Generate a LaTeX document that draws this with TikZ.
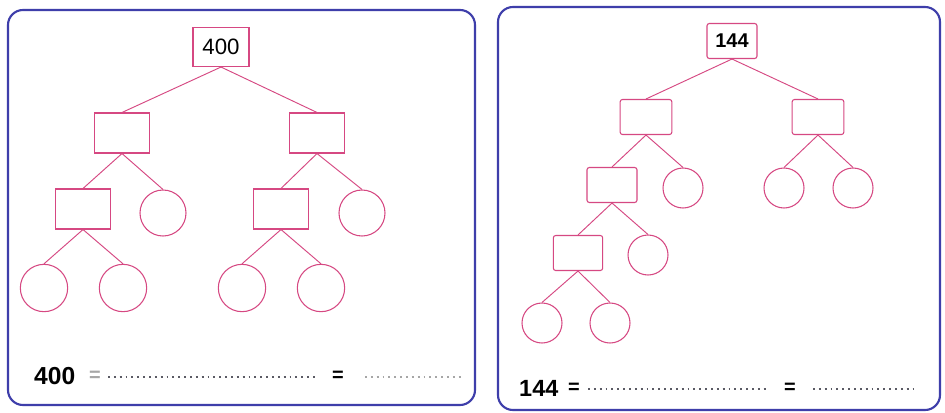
\documentclass[tikz,border=0pt]{standalone}
\usepackage{fontspec}
\setmainfont{Liberation Sans}
\definecolor{frameblue}{RGB}{62,62,170}
\definecolor{treepink}{RGB}{214,72,130}
\definecolor{dotgray}{RGB}{90,90,100}
\begin{document}
\begin{tikzpicture}[x=0.03cm,y=-0.03cm,
  panel/.style={draw=frameblue,line width=1.8pt,rounded corners=0.45cm,fill=white},
  boxL/.style={draw=treepink,line width=0.9pt,minimum width=1.65cm,minimum height=1.2cm,inner sep=0pt},
  boxR/.style={draw=treepink,line width=0.9pt,rounded corners=2pt,minimum width=1.55cm,minimum height=1.05cm,inner sep=0pt},
  ringL/.style={draw=treepink,line width=0.9pt,circle,minimum size=1.42cm,inner sep=0pt},
  ringR/.style={draw=treepink,line width=0.9pt,circle,minimum size=1.2cm,inner sep=0pt},
  edge/.style={draw=treepink,line width=0.8pt},
  dots/.style={draw=dotgray,line width=1.4pt,dash pattern=on 1.6pt off 3.4pt},
  lbl/.style={font=\fontsize{20}{22}\selectfont\bfseries,inner sep=0pt},
  eq/.style={font=\fontsize{17}{19}\selectfont\bfseries,inner sep=0pt}]
\useasboundingbox (0,0) rectangle (945,412);
\fill[white] (0,0) rectangle (945,412);
% panels
\draw[panel] (8,10) rectangle (475,405);
\draw[panel] (498,7) rectangle (940,410);

% ---------- left tree ----------
\node[boxL,minimum width=1.68cm,minimum height=1.17cm,font=\fontsize{19}{21}\selectfont] (a0) at (221,47) {400};
\node[boxL] (a1) at (122,133) {};
\node[boxL] (a2) at (317,133) {};
\node[boxL] (a11) at (83,209) {};
\node[ringL,minimum size=1.38cm] (a12) at (163,213) {};
\node[boxL] (a21) at (281,209) {};
\node[ringL,minimum size=1.38cm] (a22) at (362,213) {};
\node[ringL] (a111) at (44,288) {};
\node[ringL] (a112) at (123,288) {};
\node[ringL] (a211) at (242,288) {};
\node[ringL] (a212) at (321,288) {};
\draw[edge] (a0.south) -- (a1.north);
\draw[edge] (a0.south) -- (a2.north);
\draw[edge] (a1.south) -- (a11.north);
\draw[edge] (a1.south) -- (a12.north);
\draw[edge] (a2.south) -- (a21.north);
\draw[edge] (a2.south) -- (a22.north);
\draw[edge] (a11.south) -- (a111.north);
\draw[edge] (a11.south) -- (a112.north);
\draw[edge] (a21.south) -- (a211.north);
\draw[edge] (a21.south) -- (a212.north);

% left equation
\node[lbl,anchor=west,font=\fontsize{21}{23}\selectfont\bfseries] (ln) at (34,376) {400};
\node[eq,text=gray!70,anchor=center] (le1) at (95,376) {=};
\coordinate (ld1a) at (108,377);
\coordinate (ld1b) at (315,377);
\draw[dots] (ld1a) -- (ld1b);
\node[eq,anchor=center] (le2) at (338,376) {=};
\coordinate (ld2a) at (365,377);
\coordinate (ld2b) at (462,377);
\draw[dots,draw=gray!70] (ld2a) -- (ld2b);

% ---------- right tree ----------
\node[boxR,minimum width=1.5cm,font=\fontsize{17}{19}\selectfont\bfseries] (b0) at (732,41) {144};
\node[boxR] (b1) at (646,117) {};
\node[boxR] (b2) at (818,117) {};
\node[boxR,minimum width=1.5cm] (b11) at (612,185) {};
\node[ringR] (b12) at (683,188) {};
\node[ringR] (b21) at (784,188) {};
\node[ringR] (b22) at (853,188) {};
\node[boxR,minimum width=1.48cm] (b111) at (578,253) {};
\node[ringR] (b112) at (648,255) {};
\node[ringR] (b1111) at (542,323) {};
\node[ringR] (b1112) at (610,323) {};
\draw[edge] (b0.south) -- (b1.north);
\draw[edge] (b0.south) -- (b2.north);
\draw[edge] (b1.south) -- (b11.north);
\draw[edge] (b1.south) -- (b12.north);
\draw[edge] (b2.south) -- (b21.north);
\draw[edge] (b2.south) -- (b22.north);
\draw[edge] (b11.south) -- (b111.north);
\draw[edge] (b11.south) -- (b112.north);
\draw[edge] (b111.south) -- (b1111.north);
\draw[edge] (b111.south) -- (b1112.north);

% right equation
\node[lbl,anchor=west] (rn) at (519,388) {144};
\node[eq,anchor=center] (re1) at (574,388) {=};
\coordinate (rd1a) at (588,389);
\coordinate (rd1b) at (768,389);
\draw[dots] (rd1a) -- (rd1b);
\node[eq,anchor=center] (re2) at (790,388) {=};
\coordinate (rd2a) at (813,389);
\coordinate (rd2b) at (917,389);
\draw[dots] (rd2a) -- (rd2b);
\end{tikzpicture}
\end{document}
